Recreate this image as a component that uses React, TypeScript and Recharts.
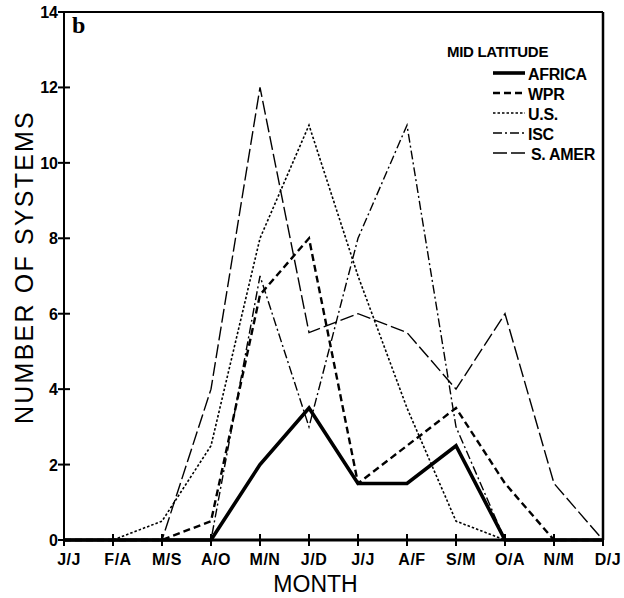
import { LineChart, Line, XAxis, YAxis, ReferenceLine, Legend } from 'recharts';

const MONTHS = ['J/J', 'F/A', 'M/S', 'A/O', 'M/N', 'J/D', 'J/J', 'A/F', 'S/M', 'O/A', 'N/M', 'D/J'];
const Y_TICKS = [0, 2, 4, 6, 8, 10, 12, 14];

const AFRICA = [0, 0, 0, 0, 2, 3.5, 1.5, 1.5, 2.5, 0, 0, 0];
const WPR = [0, 0, 0, 0.5, 6.5, 8, 1.5, 2.5, 3.5, 1.5, 0, 0];
const US = [0, 0, 0.5, 2.5, 8, 11, 7, 3.5, 0.5, 0, 0, 0];
const ISC = [0, 0, 0, 0, 7, 3, 8, 11, 3, 0, 0, 0];
const S_AMER = [0, 0, 0, 4, 12, 5.5, 6, 5.5, 4, 6, 1.5, 0];

const W = 624;
const H = 598;
const Y_AXIS_W = 64;
const X_AXIS_H = 58;
const PLOT_BOTTOM = H - X_AXIS_H;

const NARROW = '"Liberation Sans Narrow", "Liberation Sans", Arial, sans-serif';
const SANS = '"Liberation Sans", Arial, sans-serif';

// drawn back to front, africa on top
const SERIES = [
  { key: 'sAmer', name: 'S. AMER', values: S_AMER, width: 1.4, dash: '14 4' },
  { key: 'isc', name: 'ISC', values: ISC, width: 1.4, dash: '9 3 2 3' },
  { key: 'us', name: 'U.S.', values: US, width: 1.6, dash: '2.5 2' },
  { key: 'wpr', name: 'WPR', values: WPR, width: 2.4, dash: '7 4' },
  { key: 'africa', name: 'AFRICA', values: AFRICA, width: 3.6, dash: undefined },
];
const LEGEND_ORDER = ['africa', 'wpr', 'us', 'isc', 'sAmer'];

const rows = MONTHS.map((m, i) => {
  const r: Record<string, number | string> = { idx: i, month: m };
  for (const s of SERIES) r[s.key] = s.values[i];
  return r;
});

function XTick(props: any) {
  const { payload } = props;
  const x = payload.coordinate;
  return (
    <g>
      <line x1={x} x2={x} y1={PLOT_BOTTOM - 6} y2={PLOT_BOTTOM + 6} stroke="#000" strokeWidth={2} />
      <text
        x={x + 5}
        y={PLOT_BOTTOM + 25}
        textAnchor="middle"
        fontFamily={NARROW}
        fontWeight="bold"
        fontSize={16}
        letterSpacing={0.5}
        fill="#000"
      >
        {MONTHS[payload.value]}
      </text>
    </g>
  );
}

function YTick(props: any) {
  const { payload } = props;
  const y = payload.coordinate;
  return (
    <g>
      <line x1={Y_AXIS_W - 6} x2={Y_AXIS_W + 6} y1={y} y2={y} stroke="#000" strokeWidth={2} />
      <text
        x={Y_AXIS_W - 6}
        y={y}
        dy={6}
        textAnchor="end"
        fontFamily={SANS}
        fontWeight="bold"
        fontSize={16}
        fill="#000"
      >
        {payload.value}
      </text>
    </g>
  );
}

function LegendBox() {
  return (
    <div style={{ fontFamily: NARROW, fontWeight: 'bold', color: '#000', letterSpacing: -0.3 }}>
      <div style={{ fontSize: 15, lineHeight: '20px', marginBottom: 3 }}>MID LATITUDE</div>
      {LEGEND_ORDER.map((k) => {
        const s = SERIES.find((d) => d.key === k)!;
        return (
          <div key={k} style={{ display: 'flex', alignItems: 'center', height: 20, paddingLeft: 46 }}>
            <svg width={32} height={10} style={{ marginTop: -4 }}>
              <line x1={0} x2={32} y1={5} y2={5} stroke="#000" strokeWidth={s.width} strokeDasharray={s.dash} />
            </svg>
            <span style={{ fontSize: 16, marginLeft: k === 'sAmer' ? 6 : 3 }}>{s.name}</span>
          </div>
        );
      })}
    </div>
  );
}

export default function App() {
  return (
    <div style={{ position: 'absolute', left: 0, top: 0, width: W, height: H, background: '#fff' }}>
      <LineChart width={W} height={H} data={rows} margin={{ top: 12, right: 21, bottom: 0, left: 0 }}>
        <XAxis
          dataKey="idx"
          type="number"
          domain={[0, 11]}
          ticks={MONTHS.map((_, i) => i)}
          interval={0}
          height={X_AXIS_H}
          axisLine={{ stroke: '#000', strokeWidth: 3 }}
          tickLine={false}
          tick={<XTick />}
          label={{
            content: (p: any) => (
              <text
                x={p.viewBox.x + p.viewBox.width / 2 - 18}
                y={p.viewBox.y + 52}
                textAnchor="middle"
                fontFamily={SANS}
                fontSize={23}
                fill="#000"
              >
                MONTH
              </text>
            ),
          }}
        />
        <YAxis
          domain={[0, 14]}
          ticks={Y_TICKS}
          interval={0}
          width={Y_AXIS_W}
          axisLine={{ stroke: '#000', strokeWidth: 2 }}
          tickLine={false}
          tick={<YTick />}
          label={{
            content: (p: any) => {
              const cx = 24;
              const cy = p.viewBox.y + p.viewBox.height / 2 - 9;
              return (
                <text
                  x={cx}
                  y={cy}
                  transform={`rotate(-90 ${cx} ${cy})`}
                  textAnchor="middle"
                  dominantBaseline="central"
                  fontFamily={SANS}
                  fontSize={25}
                  letterSpacing={2.2}
                  fill="#000"
                >
                  NUMBER OF SYSTEMS
                </text>
              );
            },
          }}
        />
        <ReferenceLine y={14} stroke="#000" strokeWidth={2} />
        <ReferenceLine x={11} stroke="#000" strokeWidth={2.5} />
        {SERIES.map((s) => (
          <Line
            key={s.key}
            type="linear"
            dataKey={s.key}
            name={s.name}
            stroke="#000"
            strokeWidth={s.width}
            strokeDasharray={s.dash}
            dot={false}
            activeDot={false}
            isAnimationActive={false}
          />
        ))}
        <Legend
          layout="vertical"
          align="center"
          verticalAlign="middle"
          content={<LegendBox />}
          wrapperStyle={{ top: 42, left: 447, width: 156, height: 130 }}
        />
      </LineChart>
      <div
        style={{
          position: 'absolute',
          left: 72,
          top: 12,
          fontFamily: '"Liberation Serif", "DejaVu Serif", serif',
          fontWeight: 'bold',
          fontSize: 24,
        }}
      >
        b
      </div>
    </div>
  );
}
